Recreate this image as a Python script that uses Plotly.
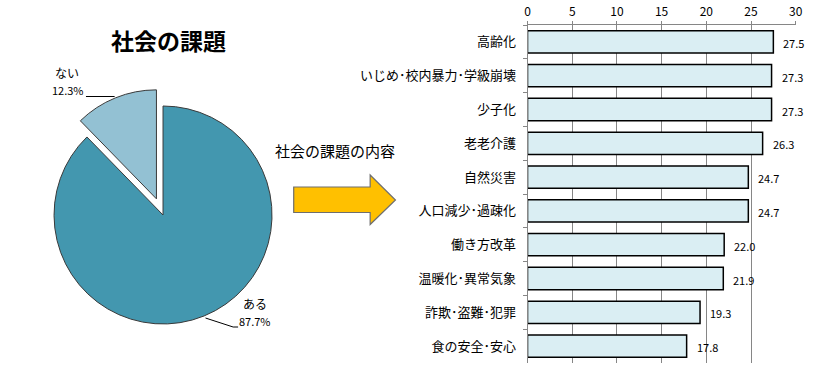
import plotly.graph_objects as go

W, H = 819, 367

# ---- data ----
pie_labels = ["ある", "ない"]
pie_values = [87.7, 12.3]
pie_text = ["87.7%", "12.3%"]

categories = ["高齢化", "いじめ･校内暴力･学級崩壊", "少子化", "老老介護", "自然災害",
              "人口減少･過疎化", "働き方改革", "温暖化･異常気象", "詐欺･盗難･犯罪", "食の安全･安心"]
values = [27.5, 27.3, 27.3, 26.3, 24.7, 24.7, 22.0, 21.9, 19.3, 17.8]
x_ticks = [0, 5, 10, 15, 20, 25, 30]

title_text = "社会の課題"
sub_text = "社会の課題の内容"

JP = "Noto Sans CJK JP, sans-serif"


def px(x):
    return x / W


def py(y):
    return 1 - y / H


fig = go.Figure()

# pie
cx, cy, half = 162, 215, 128
fig.add_trace(go.Pie(
    labels=pie_labels, values=pie_values, sort=False, direction="clockwise", rotation=0,
    pull=[0, 0.16], textinfo="none", hoverinfo="skip",
    marker=dict(colors=["#4397AF", "#93C1D3"], line=dict(color="#3a3a3a", width=1)),
    domain=dict(x=[px(cx - half), px(cx + half)], y=[py(cy + half), py(cy - half)]),
    showlegend=False,
))

# bars
fig.add_trace(go.Bar(
    x=values, y=categories, orientation="h",
    marker=dict(color="#DAEEF3", line=dict(color="#000000", width=1.5)),
    hoverinfo="skip", showlegend=False, xaxis="x", yaxis="y",
))

annotations = []
for c, v in zip(categories, values):
    annotations.append(dict(x=v, y=c, xref="x", yref="y", text=f"{v:.1f}", showarrow=False,
                            xanchor="left", yanchor="middle", xshift=8, yshift=-1,
                            font=dict(family=JP, size=11, color="#000")))

# titles
annotations.append(dict(x=px(168), y=py(40), xref="paper", yref="paper", text=f"<b>{title_text}</b>",
                        showarrow=False, xanchor="center", yanchor="middle",
                        font=dict(family=JP, size=23, color="#000")))
annotations.append(dict(x=px(273), y=py(150.5), xref="paper", yref="paper", text=sub_text,
                        showarrow=False, xanchor="left", yanchor="middle",
                        font=dict(family=JP, size=15, color="#000")))

# pie labels
for txt, x, y, sz in [(pie_labels[1], 65, 73, 12), (pie_text[1], 66, 90, 11),
                      (pie_labels[0], 255, 303, 12), (pie_text[0], 255, 321, 11)]:
    annotations.append(dict(x=px(x), y=py(y), xref="paper", yref="paper", text=txt, showarrow=False,
                            xanchor="center", yanchor="middle", font=dict(family=JP, size=sz, color="#000")))

shapes = [
    dict(type="line", xref="paper", yref="paper", x0=px(84), y0=py(96.5), x1=px(113), y1=py(96.5),
         line=dict(color="#000", width=1)),
    dict(type="path", xref="paper", yref="paper",
         path=f"M {px(205)} {py(318)} L {px(233)} {py(327)} L {px(238)} {py(327)}",
         line=dict(color="#000", width=1)),
    dict(type="path", xref="paper", yref="paper",
         path=(f"M {px(294.3)} {py(187)} L {px(371.7)} {py(187)} L {px(371.7)} {py(175)} "
               f"L {px(397.3)} {py(200)} L {px(371.7)} {py(224.5)} L {px(371.7)} {py(212.5)} "
               f"L {px(294.3)} {py(212.5)} Z"),
         fillcolor="#FFC000", line=dict(color="#6e6e6e", width=1.2)),
]

fig.update_layout(
    width=W, height=H, margin=dict(l=0, r=0, t=0, b=0),
    paper_bgcolor="white", plot_bgcolor="white",
    bargap=0.34,
    xaxis=dict(domain=[px(531), px(802.5)], range=[0, 30], side="top", tickvals=x_ticks,
               showgrid=True, gridcolor="#868686", gridwidth=1, showline=True, linecolor="#868686",
               ticks="outside", ticklen=3, tickcolor="#868686", zeroline=False, fixedrange=True,
               tickfont=dict(family=JP, size=12, color="#000"), anchor="y"),
    yaxis=dict(domain=[py(363), py(25)], autorange="reversed", type="category",
               showgrid=False, showline=True, linecolor="#868686", ticks="outside", ticklen=4,
               tickcolor="#868686", tickson="boundaries", ticklabelstandoff=8,
               tickfont=dict(family=JP, size=13, color="#000"), anchor="x", fixedrange=True),
    annotations=annotations, shapes=shapes,
)

fig.write_html("out.html")
